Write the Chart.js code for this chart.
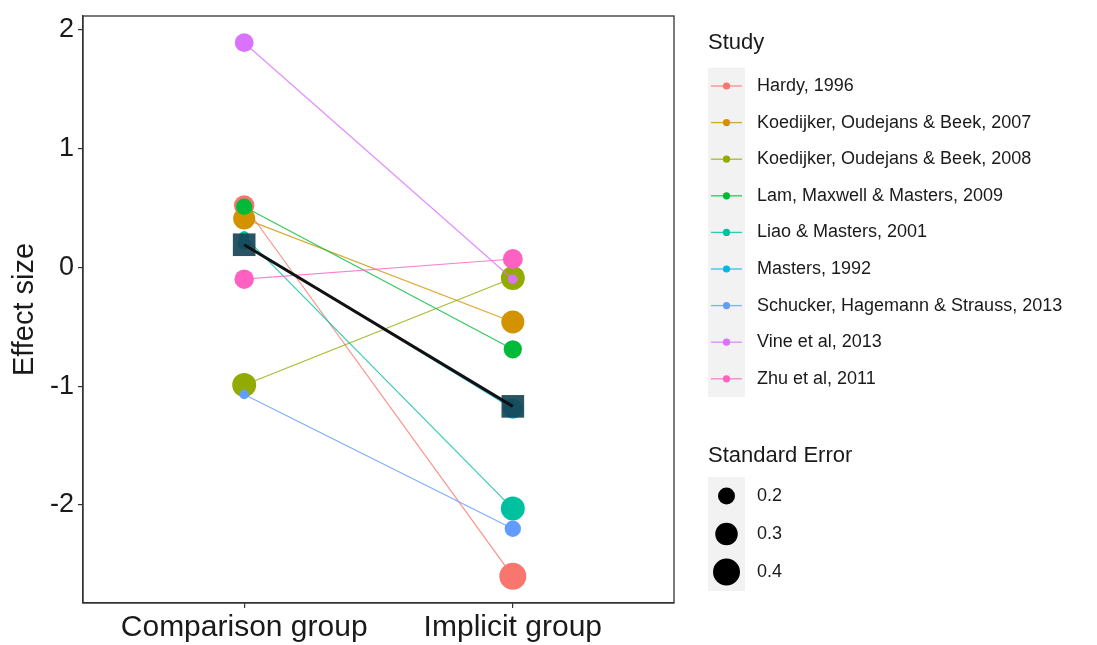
<!DOCTYPE html>
<html>
<head>
<meta charset="utf-8">
<script src="https://cdn.jsdelivr.net/npm/chart.js@4.4.1/dist/chart.umd.min.js"></script>
<style>
  html, body { margin: 0; padding: 0; background: #ffffff; }
  #wrap { width: 1097px; height: 645px; position: relative; }
</style>
</head>
<body>
<div id="wrap"><canvas id="c" width="1097" height="645"></canvas></div>
<script>
// ---- data ----
const categories = ['Comparison group', 'Implicit group'];
const studies = [
  'Hardy, 1996',
  'Koedijker, Oudejans & Beek, 2007',
  'Koedijker, Oudejans & Beek, 2008',
  'Lam, Maxwell & Masters, 2009',
  'Liao & Masters, 2001',
  'Masters, 1992',
  'Schucker, Hagemann & Strauss, 2013',
  'Vine et al, 2013',
  'Zhu et al, 2011'
];
const comparisonES = [0.52, 0.41, -0.99, 0.51, 0.26, 0.20, -1.07, 1.89, -0.10];
const implicitES   = [-2.60, -0.46, -0.09, -0.69, -2.03, -1.19, -2.20, -0.10, 0.07];
const comparisonSE = [0.26, 0.29, 0.33, 0.19, 0.12, 0.15, 0.11, 0.23, 0.24];
const implicitSE   = [0.40, 0.31, 0.33, 0.22, 0.33, 0.25, 0.19, 0.11, 0.25];
const summaryES = [0.19, -1.17];
const yTickValues = [-2, -1, 0, 1, 2];
const seLegendValues = [0.2, 0.3, 0.4];

// ---- styles ----
const studyColors = ['#F8766D', '#D39200', '#93AA00', '#00BA38', '#00C19F', '#00B9E3', '#619CFF', '#DB72FB', '#FF61C3'];
const FONT = "'Liberation Sans', Arial, sans-serif";
const TEXT = '#1a1a1a';
function seRadius(se) { return Math.sqrt(Math.max(550 * se - 38, 4)); }

Chart.defaults.font.family = FONT;

const allES = comparisonES.concat(implicitES, summaryES);
const dMin = Math.min(...allES), dMax = Math.max(...allES);
const pad = (dMax - dMin) * 0.05;

const datasets = [];
studies.forEach((name, i) => {
  datasets.push({
    label: name,
    data: [{ x: 1, y: comparisonES[i] }, { x: 2, y: implicitES[i] }],
    showLine: true,
    borderColor: studyColors[i] + 'cc',
    borderWidth: 1.2,
    backgroundColor: studyColors[i],
    pointBackgroundColor: studyColors[i],
    pointBorderWidth: 0,
    pointRadius: [seRadius(comparisonSE[i]), seRadius(implicitSE[i])],
    pointHoverRadius: [seRadius(comparisonSE[i]), seRadius(implicitSE[i])],
    order: 20 - i
  });
});
datasets.push({
  label: 'summary points',
  data: summaryES.map((v, k) => ({ x: k + 1, y: v })),
  showLine: false,
  pointStyle: 'rect',
  pointRadius: 16,
  pointHoverRadius: 16,
  pointBorderWidth: 0,
  pointBackgroundColor: 'rgba(24,68,86,0.92)',
  order: 2
});
datasets.push({
  label: 'summary line',
  data: summaryES.map((v, k) => ({ x: k + 1, y: v })),
  showLine: true,
  borderColor: '#111111',
  borderWidth: 3,
  pointRadius: 0,
  pointHoverRadius: 0,
  order: 1
});

const panelPlugin = {
  id: 'panelAndLegend',
  afterDatasetsDraw(chart) {
    const { ctx, chartArea: a } = chart;
    ctx.save();
    ctx.strokeStyle = '#333333';
    ctx.lineWidth = 1.3;
    ctx.strokeRect(a.left, a.top, a.right - a.left, a.bottom - a.top);
    ctx.restore();
  },
  afterDraw(chart) {
    const ctx = chart.ctx;
    ctx.save();
    ctx.fillStyle = TEXT;
    ctx.textBaseline = 'middle';
    ctx.textAlign = 'left';
    ctx.font = '22px ' + FONT;
    ctx.fillText('Study', 708, 43);
    const keyX = 708, keyW = 37, step = 36.6, firstY = 86;
    ctx.fillStyle = '#F2F2F2';
    ctx.fillRect(keyX, firstY - step / 2, keyW, step * studies.length);
    studies.forEach((name, i) => {
      const y = firstY + i * step;
      ctx.strokeStyle = studyColors[i] + 'cc';
      ctx.lineWidth = 1.3;
      ctx.beginPath();
      ctx.moveTo(keyX + 3, y);
      ctx.lineTo(keyX + keyW - 3, y);
      ctx.stroke();
      ctx.fillStyle = studyColors[i];
      ctx.beginPath();
      ctx.arc(keyX + keyW / 2, y, 3.6, 0, Math.PI * 2);
      ctx.fill();
      ctx.fillStyle = TEXT;
      ctx.font = '18px ' + FONT;
      ctx.fillText(name, 757, y);
    });
    ctx.font = '22px ' + FONT;
    ctx.fillStyle = TEXT;
    ctx.fillText('Standard Error', 708, 456);
    const seFirst = 496, seStep = 38;
    ctx.fillStyle = '#F2F2F2';
    ctx.fillRect(keyX, seFirst - seStep / 2, keyW, seStep * seLegendValues.length);
    seLegendValues.forEach((se, k) => {
      const y = seFirst + k * seStep;
      ctx.fillStyle = '#000000';
      ctx.beginPath();
      ctx.arc(keyX + keyW / 2, y, seRadius(se), 0, Math.PI * 2);
      ctx.fill();
      ctx.fillStyle = TEXT;
      ctx.font = '18px ' + FONT;
      ctx.fillText(se.toFixed(1), 757, y);
    });
    ctx.restore();
  }
};

new Chart(document.getElementById('c'), {
  type: 'scatter',
  data: { datasets },
  options: {
    responsive: false,
    animation: false,
    events: [],
    layout: { padding: { top: 10, right: 423, bottom: 0, left: 0 } },
    plugins: { legend: { display: false }, tooltip: { enabled: false } },
    scales: {
      x: {
        type: 'linear',
        min: 0.4,
        max: 2.6,
        afterBuildTicks(scale) { scale.ticks = categories.map((c, k) => ({ value: k + 1 })); },
        afterFit(scale) { scale.height = 42; scale.paddingLeft = 0; scale.paddingRight = 0; },
        ticks: {
          callback: (v) => categories[Math.round(v) - 1] || '',
          font: { size: 30, family: FONT },
          color: TEXT,
          padding: 2,
          maxRotation: 0,
          autoSkip: false
        },
        grid: { drawOnChartArea: false, drawTicks: true, tickLength: 5, color: '#333333', lineWidth: 1.2 },
        border: { display: true, color: '#333333', width: 1.3 }
      },
      y: {
        type: 'linear',
        min: dMin - pad,
        max: dMax + pad,
        afterBuildTicks(scale) { scale.ticks = yTickValues.map(v => ({ value: v })); },
        afterFit(scale) { scale.width = 83; scale.paddingTop = 0; scale.paddingBottom = 0; },
        ticks: {
          callback: (v) => String(v),
          font: { size: 27, family: FONT },
          color: TEXT,
          padding: 4
        },
        title: {
          display: true,
          text: 'Effect size',
          font: { size: 29, family: FONT },
          color: TEXT,
          padding: { top: 8, bottom: 0 }
        },
        grid: { drawOnChartArea: false, drawTicks: true, tickLength: 5, color: '#333333', lineWidth: 1.2 },
        border: { display: true, color: '#333333', width: 1.3 }
      }
    }
  },
  plugins: [panelPlugin]
});
</script>
</body>
</html>
